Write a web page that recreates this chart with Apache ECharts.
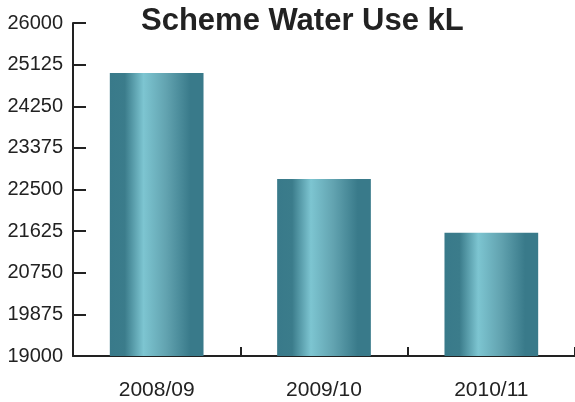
<!DOCTYPE html>
<html><head><meta charset="utf-8">
<script src="https://cdn.jsdelivr.net/npm/echarts@6/dist/echarts.min.js"></script>
<style>html,body{margin:0;padding:0;background:#fff}#c{width:575px;height:402px}</style>
</head><body><div id="c"></div>
<script>
const categories = ['2008/09', '2009/10', '2010/11'];
const waterUse = [24950, 22720, 21590];
const yMin = 19000, yMax = 26000, yStep = 875;

const chart = echarts.init(document.getElementById('c'), null, {renderer: 'canvas'});
const barColor = new echarts.graphic.LinearGradient(0, 0, 1, 0, [
  {offset: 0, color: '#397a8a'},
  {offset: 0.16, color: '#3b7c8b'},
  {offset: 0.36, color: '#7dc5d1'},
  {offset: 0.6, color: '#62a3b0'},
  {offset: 0.86, color: '#397a8a'},
  {offset: 1, color: '#397a8a'}
]);
const font = 'Liberation Sans, Arial, sans-serif';
chart.setOption({
  animation: false,
  title: {
    text: 'Scheme Water Use kL', left: 136, top: 1,
    textStyle: {fontFamily: font, fontSize: 31, fontWeight: 'bold', color: '#222'}
  },
  grid: {left: 73, right: 0, top: 23, bottom: 46, containLabel: false},
  xAxis: {
    type: 'category', data: categories,
    axisLine: {lineStyle: {color: '#222', width: 2}},
    axisTick: {show: true, inside: true, length: 9, lineStyle: {color: '#222', width: 2}},
    axisLabel: {fontFamily: font, fontSize: 21, color: '#222', margin: 24}
  },
  yAxis: {
    type: 'value', min: yMin, max: yMax, interval: yStep,
    splitLine: {show: false},
    axisLine: {show: true, lineStyle: {color: '#222', width: 2}},
    axisTick: {show: true, inside: true, length: 13, lineStyle: {color: '#222', width: 2}},
    axisLabel: {fontFamily: font, fontSize: 20, color: '#222', margin: 10,
      formatter: v => String(v)}
  },
  series: [{
    type: 'bar', data: waterUse, barWidth: '56%',
    itemStyle: {color: barColor}
  }]
});
</script></body></html>
